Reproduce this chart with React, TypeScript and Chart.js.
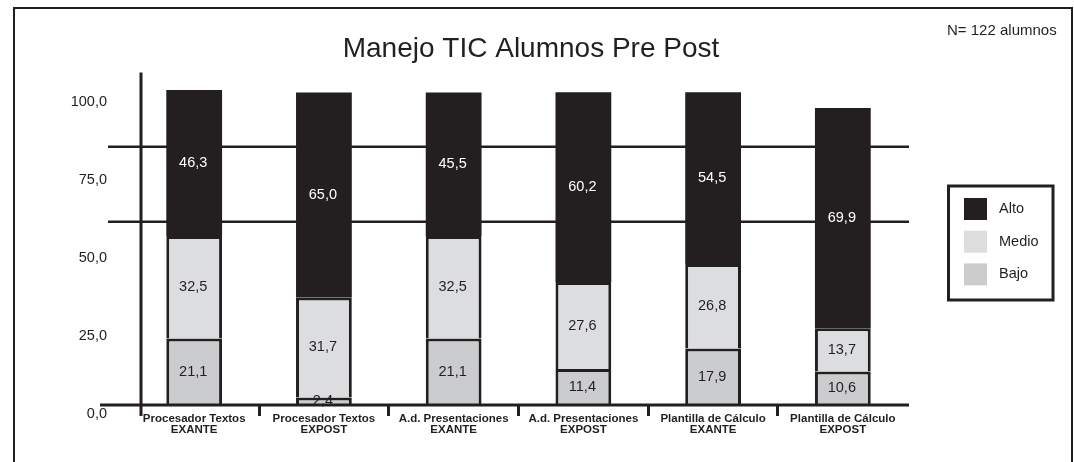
import React, { useEffect, useRef } from "react";
import { Chart, registerables } from "chart.js";

Chart.register(...registerables);

// ---- data ----
const categories: string[][] = [
  ["Procesador Textos", "EXANTE"],
  ["Procesador Textos", "EXPOST"],
  ["A.d. Presentaciones", "EXANTE"],
  ["A.d. Presentaciones", "EXPOST"],
  ["Plantilla de Cálculo", "EXANTE"],
  ["Plantilla de Cálculo", "EXPOST"],
];
const bajo = [21.1, 2.4, 21.1, 11.4, 17.9, 10.6];
const medio = [32.5, 31.7, 32.5, 27.6, 26.8, 13.7];
const alto = [46.3, 65.0, 45.5, 60.2, 54.5, 69.9];
const seriesNames = ["Bajo", "Medio", "Alto"];
const yTickValues = [0, 25, 50, 75, 100];
const yTickLabels = ["0,0", "25,0", "50,0", "75,0", "100,0"];
const gridLineValues = [58.1, 81.9];
const chartTitle = "Manejo TIC Alumnos Pre Post";
const noteText = "N= 122 alumnos";

// ---- styles ----
const INK = "#231f20";
const MEDIO_COLOR = "#dcdddf";
const BAJO_COLOR = "#cbcccd";
const FONT = "'Liberation Sans', Arial, Helvetica, sans-serif";

const fmt = (v: number) => v.toFixed(1).replace(".", ",");

const decor = {
  id: "decor",
  beforeDraw(chart: any) {
    const ctx = chart.ctx;
    ctx.save();
    ctx.fillStyle = "#ffffff";
    ctx.fillRect(0, 0, chart.width, chart.height);
    // outer frame
    ctx.strokeStyle = INK;
    ctx.lineWidth = 2;
    ctx.beginPath();
    ctx.moveTo(14, chart.height + 10);
    ctx.lineTo(14, 8);
    ctx.lineTo(1072, 8);
    ctx.lineTo(1072, chart.height + 10);
    ctx.stroke();
    // title
    ctx.fillStyle = INK;
    ctx.font = `28px ${FONT}`;
    ctx.textAlign = "center";
    ctx.textBaseline = "alphabetic";
    ctx.fillText(chartTitle, 531, 57);
    // note
    ctx.font = `15px ${FONT}`;
    ctx.textAlign = "left";
    ctx.fillText(noteText, 947, 35);
    ctx.restore();
  },
  beforeDatasetsDraw(chart: any) {
    const { ctx, chartArea, scales } = chart;
    const y = scales.y;
    ctx.save();
    ctx.strokeStyle = INK;
    ctx.lineWidth = 2.5;
    for (const v of gridLineValues) {
      const py = y.getPixelForValue(v);
      ctx.beginPath();
      ctx.moveTo(chartArea.left - 33, py);
      ctx.lineTo(chartArea.right, py);
      ctx.stroke();
    }
    ctx.restore();
  },
  afterDatasetsDraw(chart: any) {
    const { ctx, chartArea, scales } = chart;
    const y = scales.y;
    const base = y.getPixelForValue(0);
    ctx.save();
    ctx.strokeStyle = INK;
    ctx.lineWidth = 3;
    // baseline
    ctx.beginPath();
    ctx.moveTo(chartArea.left - 41, base);
    ctx.lineTo(chartArea.right, base);
    ctx.stroke();
    // vertical axis
    ctx.beginPath();
    ctx.moveTo(chartArea.left, chartArea.top + 0.5);
    ctx.lineTo(chartArea.left, base + 11);
    ctx.stroke();
    // value labels
    ctx.font = `14.5px ${FONT}`;
    ctx.textAlign = "center";
    ctx.textBaseline = "middle";
    chart.data.datasets.forEach((ds: any, di: number) => {
      const meta = chart.getDatasetMeta(di);
      ctx.fillStyle = ds.label === "Alto" ? "#ffffff" : INK;
      meta.data.forEach((el: any, i: number) => {
        const cy = (el.y + el.base) / 2;
        ctx.fillText(fmt(ds.data[i]), el.x - 1, cy);
      });
    });
    ctx.restore();
  },
  afterDraw(chart: any) {
    const ctx = chart.ctx;
    ctx.save();
    // legend box
    ctx.strokeStyle = INK;
    ctx.lineWidth = 3;
    ctx.strokeRect(948.5, 186, 104.5, 114);
    const items = [...chart.data.datasets].reverse();
    ctx.font = `14.5px ${FONT}`;
    ctx.textAlign = "left";
    ctx.textBaseline = "middle";
    items.forEach((ds: any, i: number) => {
      const top = 198 + i * 32.7;
      ctx.fillStyle = ds.backgroundColor;
      ctx.fillRect(964, top, 23, 22);
      ctx.fillStyle = INK;
      ctx.fillText(ds.label, 999, top + 11);
    });
    ctx.restore();
  },
};

export default function App() {
  const ref = useRef<HTMLCanvasElement>(null);
  useEffect(() => {
    const chart = new Chart(ref.current as HTMLCanvasElement, {
      type: "bar",
      data: {
        labels: categories.map((_, i) => i),
        datasets: [
          {
            label: seriesNames[0],
            data: bajo,
            backgroundColor: BAJO_COLOR,
            borderColor: INK,
            borderWidth: 3,
            barPercentage: 0.43,
            categoryPercentage: 1,
            yAxisID: "y",
            xAxisID: "x",
          },
          {
            label: seriesNames[1],
            data: medio,
            backgroundColor: MEDIO_COLOR,
            borderColor: INK,
            borderWidth: 3,
            barPercentage: 0.43,
            categoryPercentage: 1,
            yAxisID: "y",
            xAxisID: "x",
          },
          {
            label: seriesNames[2],
            data: alto,
            backgroundColor: INK,
            borderColor: INK,
            borderWidth: 0,
            barPercentage: 0.43,
            categoryPercentage: 1,
            yAxisID: "y",
            xAxisID: "x",
          },
        ],
      } as any,
      options: {
        responsive: false,
        animation: false,
        events: [],
        layout: { padding: { left: 41, right: 165, top: 72, bottom: 17 } },
        plugins: {
          legend: { display: false },
          title: { display: false },
          tooltip: { enabled: false },
        },
        scales: {
          x: {
            type: "linear",
            position: "bottom",
            min: -0.41,
            max: 5.51,
            stacked: true,
            offset: false,
            afterBuildTicks: (s: any) => {
              s.ticks = categories.map((_, i) => ({ value: i }));
            },
            afterFit: (s: any) => {
              s.height = 40;
            },
            grid: {
              offset: true,
              drawOnChartArea: false,
              drawTicks: true,
              tickLength: 11,
              lineWidth: 3,
              color: (c: any) => (c.type === "tick" ? INK : "rgba(0,0,0,0)"),
            },
            border: { display: false },
            ticks: {
              autoSkip: false,
              maxRotation: 0,
              minRotation: 0,
              padding: -3,
              color: INK,
              font: { family: FONT, size: 11.5, weight: "bold", lineHeight: 1 },
              callback: (_v: any, i: number) => categories[i],
            },
          },
          y: {
            type: "linear",
            display: false,
            stacked: true,
            min: 0,
            max: 105.6,
          },
          yl: {
            type: "linear",
            position: "left",
            min: 3.04,
            max: 109.7,
            afterBuildTicks: (s: any) => {
              s.ticks = yTickValues.map((v) => ({ value: v }));
            },
            afterFit: (s: any) => {
              s.width = 100;
            },
            grid: { display: false, drawTicks: false },
            border: { display: false },
            ticks: {
              autoSkip: false,
              padding: 34,
              color: INK,
              font: { family: FONT, size: 14.5 },
              callback: (_v: any, i: number) => yTickLabels[i],
            },
          },
        },
      } as any,
      plugins: [decor],
    });
    return () => chart.destroy();
  }, []);

  return (
    <div
      style={{
        position: "absolute",
        left: 0,
        top: 0,
        width: 1074,
        height: 462,
        background: "#ffffff",
        overflow: "hidden",
      }}
    >
      <canvas ref={ref} width={1074} height={462} style={{ display: "block" }} />
    </div>
  );
}
